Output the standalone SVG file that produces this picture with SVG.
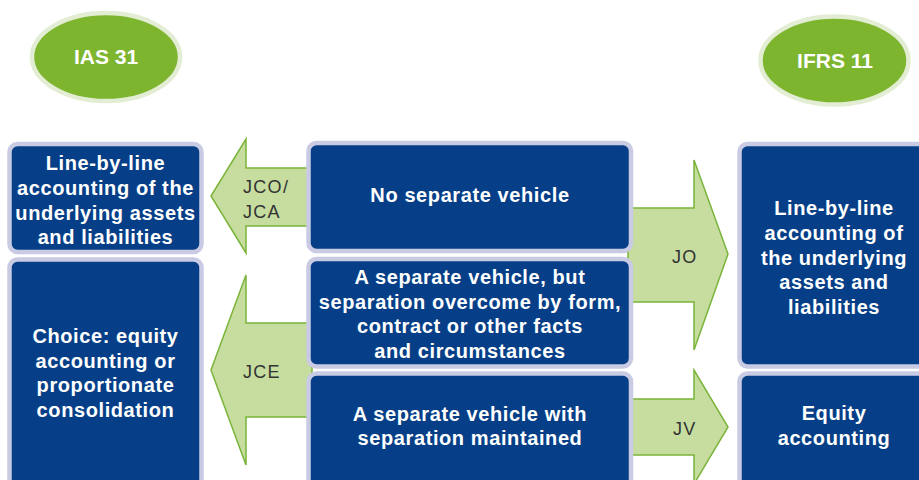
<svg xmlns="http://www.w3.org/2000/svg" width="919" height="480" viewBox="0 0 919 480">
<style>
.ell{fill:#7db52f;stroke:#e2edd3;stroke-width:4.5}
.box{fill:#063f87;stroke:#c8cbe3;stroke-width:4.5}
.arr{fill:#c6dd9f;stroke:#7ab43a;stroke-width:1.5;stroke-linejoin:miter}
.et{font-family:"Liberation Sans",Arial,sans-serif;font-weight:bold;font-size:21px;fill:#fff;text-anchor:middle}
.bt{font-family:"Liberation Sans",Arial,sans-serif;font-weight:bold;font-size:20px;letter-spacing:0.6px;fill:#fff;text-anchor:middle}
.lt{font-family:"Liberation Sans",Arial,sans-serif;font-size:18px;letter-spacing:1.3px;fill:#333}
</style>
<rect width="919" height="480" fill="#fff"/>
<g id="ias31">
<ellipse class="ell" cx="106" cy="57" rx="74" ry="44"/>
<text class="et" x="106" y="64">IAS 31</text>
</g>
<g id="ifrs11">
<ellipse class="ell" cx="834.5" cy="60.5" rx="74" ry="44"/>
<text class="et" x="835" y="68">IFRS 11</text>
</g>
<g id="connectors">
<polygon class="arr" points="312,168 246,168 246,139 211,196 246,253 246,226 312,226"/>
<text class="lt" x="243" y="193">JCO/</text>
<text class="lt" x="243" y="218">JCA</text>
<polygon class="arr" points="312,323 246,323 246,275 211,370 246,465 246,417 312,417"/>
<text class="lt" x="243" y="378">JCE</text>
<polygon class="arr" points="628,208 694,208 694,160 728,254 694,350 694,302 628,302"/>
<text class="lt" x="672" y="263">JO</text>
<polygon class="arr" points="628,399 694,399 694,370 728,427 694,484 694,455 628,455"/>
<text class="lt" x="673" y="435">JV</text>
</g>
<g id="ias-line">
<rect class="box" x="9.5" y="144" width="192" height="108" rx="8"/>
<text class="bt" x="105.5" y="170">Line-by-line</text>
<text class="bt" x="105.5" y="195">accounting of the</text>
<text class="bt" x="105.5" y="219.5">underlying assets</text>
<text class="bt" x="105.5" y="244">and liabilities</text>
</g>
<g id="ias-choice">
<rect class="box" x="9.5" y="259.5" width="192" height="232" rx="8"/>
<text class="bt" x="105.5" y="343">Choice: equity</text>
<text class="bt" x="105.5" y="367.5">accounting or</text>
<text class="bt" x="105.5" y="392">proportionate</text>
<text class="bt" x="105.5" y="416.5">consolidation</text>
</g>
<g id="no-vehicle">
<rect class="box" x="308.5" y="143" width="322.5" height="108" rx="8"/>
<text class="bt" x="470" y="202">No separate vehicle</text>
</g>
<g id="vehicle-overcome">
<rect class="box" x="308.5" y="259" width="322.5" height="107.5" rx="8"/>
<text class="bt" x="470" y="284">A separate vehicle, but</text>
<text class="bt" x="470" y="308.5">separation overcome by form,</text>
<text class="bt" x="470" y="333">contract or other facts</text>
<text class="bt" x="470" y="357.5">and circumstances</text>
</g>
<g id="vehicle-maintained">
<rect class="box" x="308.5" y="373.5" width="322.5" height="118" rx="8"/>
<text class="bt" x="470" y="420.5">A separate vehicle with</text>
<text class="bt" x="470" y="445">separation maintained</text>
</g>
<g id="ifrs-line">
<rect class="box" x="739.5" y="144" width="192" height="222.5" rx="8"/>
<text class="bt" x="834" y="215">Line-by-line</text>
<text class="bt" x="834" y="240">accounting of</text>
<text class="bt" x="834" y="264.5">the underlying</text>
<text class="bt" x="834" y="289">assets and</text>
<text class="bt" x="834" y="313.5">liabilities</text>
</g>
<g id="ifrs-equity">
<rect class="box" x="739.5" y="373.5" width="192" height="118" rx="8"/>
<text class="bt" x="834" y="420">Equity</text>
<text class="bt" x="834" y="444.5">accounting</text>
</g>
</svg>
